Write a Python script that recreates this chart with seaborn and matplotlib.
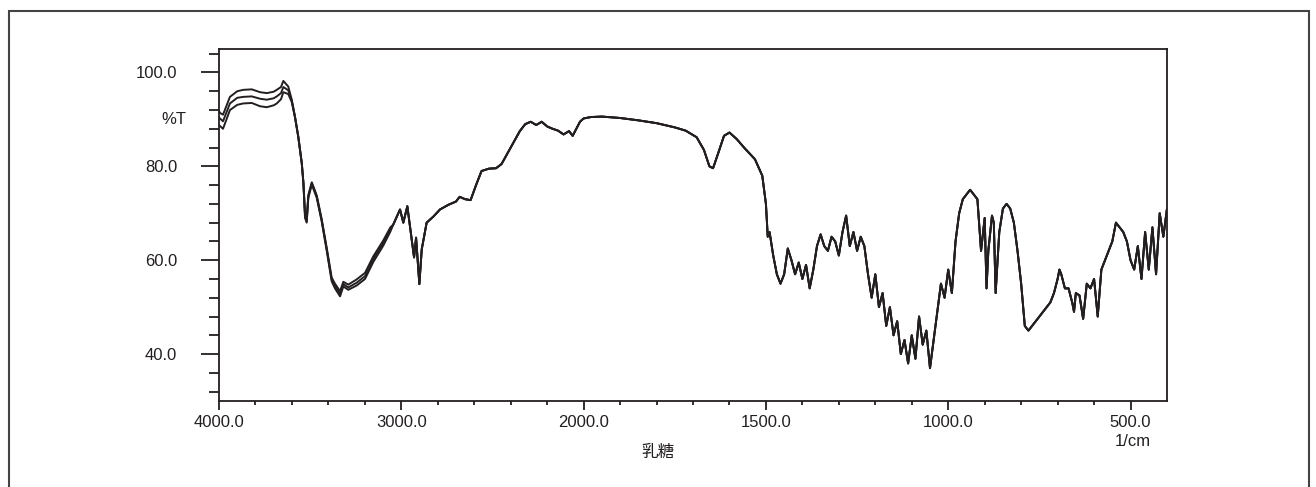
import numpy as np
import pandas as pd
import matplotlib
matplotlib.use("Agg")
import matplotlib.pyplot as plt
import matplotlib.transforms as mtransforms
from matplotlib.patches import Rectangle
from matplotlib.ticker import FixedLocator, FixedFormatter
import seaborn as sns

# --- data (wavenumber in 1/cm, %T) ---
# high-wavenumber part, where the three scans separate
wn_head = [4000, 3995, 3978, 3940, 3900, 3867, 3820, 3775, 3738, 3700, 3683, 3660, 3647,
           3620, 3601, 3583, 3565, 3546, 3537, 3528, 3519, 3510, 3491, 3464, 3437, 3409,
           3382, 3364, 3336, 3318, 3291, 3245, 3199, 3154, 3099, 3060]
t_upper_head = [91.8, 91.4, 91.0, 94.8, 96.0, 96.3, 96.4, 95.8, 95.6, 95.9, 96.3, 96.9, 98.2,
                97.0, 94.2, 90.5, 86.3, 80.7, 76.5, 69.8, 68.7, 73.9, 76.6, 73.8, 68.8, 62.6,
                56.3, 55.0, 53.4, 55.4, 54.8, 55.9, 57.3, 60.8, 64.2, 67.0]
t_mid_head = [90.4, 90.2, 89.6, 93.4, 94.6, 94.8, 94.9, 94.4, 94.2, 94.5, 94.9, 95.6, 96.9,
              96.2, 94.0, 90.5, 86.3, 80.7, 76.5, 69.3, 68.3, 73.6, 76.4, 73.6, 68.6, 62.3,
              55.9, 54.5, 52.8, 54.9, 54.2, 55.2, 56.6, 60.2, 63.7, 66.6]
t_lower_head = [88.8, 88.6, 88.0, 92.0, 93.1, 93.4, 93.5, 92.8, 92.6, 93.0, 93.4, 94.3, 95.8,
                95.4, 93.7, 90.4, 86.2, 80.6, 76.4, 69.0, 68.0, 73.3, 76.1, 73.3, 68.3, 62.0,
                55.5, 54.0, 52.3, 54.4, 53.7, 54.6, 56.0, 59.6, 63.1, 66.1]

# rest of the spectrum, where the scans lie on top of each other
wn_tail = [3044, 3007, 2989, 2967, 2943, 2930, 2919, 2901, 2888, 2861, 2824, 2788, 2742,
           2700, 2680, 2650, 2620, 2590, 2560, 2520, 2480, 2450, 2400, 2350, 2320, 2290,
           2260, 2230, 2200, 2170, 2140, 2110, 2080, 2060, 2040, 2020, 2000,
           1980, 1950, 1900, 1850, 1800, 1750, 1720, 1690, 1670, 1655, 1645, 1630, 1615,
           1600, 1580, 1560, 1530, 1510, 1500, 1495, 1490, 1480, 1470, 1460, 1450, 1440,
           1430, 1420, 1410, 1400, 1390, 1380, 1370, 1360, 1350, 1340, 1330, 1320, 1310,
           1300, 1290, 1280, 1270, 1260, 1250, 1240, 1230, 1220, 1210, 1200, 1190, 1180,
           1170, 1160, 1150, 1140, 1130, 1120, 1110, 1100, 1090, 1080, 1070, 1060, 1050,
           1040, 1030, 1020, 1010, 1000, 990, 980, 970, 960, 950, 940, 930, 920, 910,
           900, 895, 890, 880, 875, 870, 860, 850, 840, 830, 820, 810, 800, 790, 780,
           770, 760, 750, 740, 730, 720, 710, 700, 695, 690, 680, 670, 660, 655, 650,
           640, 630, 620, 610, 600, 590, 580, 570, 560, 550, 540, 530, 520, 510, 500,
           490, 480, 470, 460, 450, 440, 430, 420, 410, 400]
t_tail = [67.6, 70.8, 68.0, 71.5, 64.4, 60.6, 64.8, 54.9, 62.3, 68.0, 69.3, 70.8, 71.8,
          72.5, 73.5, 73.0, 72.8, 76.0, 79.0, 79.5, 79.6, 80.5, 84.0, 87.5, 89.0, 89.5,
          88.8, 89.5, 88.5, 88.0, 87.6, 86.8, 87.5, 86.5, 88.0, 89.5, 90.2,
          90.5, 90.6, 90.3, 89.8, 89.2, 88.3, 87.6, 86.2, 83.5, 80.0, 79.6, 83.0, 86.5,
          87.2, 85.8, 84.0, 81.5, 78.0, 72.0, 65.0, 66.0, 61.0, 57.0, 55.0, 57.0, 62.5,
          60.0, 57.0, 59.5, 56.0, 59.0, 54.0, 58.0, 63.0, 65.5, 63.0, 62.0, 65.0, 64.0,
          61.0, 66.0, 69.5, 63.0, 66.0, 62.0, 65.0, 63.0, 57.0, 52.0, 57.0, 50.0, 53.0,
          46.0, 50.0, 44.0, 47.0, 40.0, 43.0, 38.0, 44.0, 39.0, 48.0, 42.0, 45.0, 37.0,
          43.0, 49.0, 55.0, 52.0, 58.0, 53.0, 64.0, 70.0, 73.0, 74.0, 75.0, 74.0, 73.0, 62.0,
          69.0, 54.0, 62.0, 69.5, 68.0, 53.0, 66.0, 71.0, 72.0, 71.0, 68.0, 62.0, 55.0, 46.0, 45.0,
          46.0, 47.0, 48.0, 49.0, 50.0, 51.0, 53.0, 56.0, 58.0, 57.0, 54.0, 54.0, 51.0, 49.0, 53.0,
          52.5, 47.5, 55.0, 54.0, 56.0, 48.0, 58.0, 60.0, 62.0, 64.0, 68.0, 67.0, 66.0, 64.0, 60.0,
          58.0, 63.0, 56.0, 66.0, 58.0, 67.0, 57.0, 70.0, 65.0, 71.0]

traces = {"a": t_upper_head, "b": t_mid_head, "c": t_lower_head}
frames = []
for name, head in traces.items():
    frames.append(pd.DataFrame({"wn": wn_head + wn_tail, "T": head + t_tail, "scan": name}))
df = pd.concat(frames, ignore_index=True)

x_major = [4000, 3000, 2000, 1500, 1000, 500]
x_minor = [3800, 3600, 3400, 3200, 2800, 2600, 2400, 2200, 1900, 1800, 1700, 1600,
           1400, 1300, 1200, 1100, 900, 800, 700, 600]
y_major = [40, 60, 80, 100]
y_minor = [32, 36, 44, 48, 52, 56, 64, 68, 72, 76, 84, 88, 92, 96, 104]


# the instrument plots 2000-400 at twice the scale of 4000-2000
def fwd(x):
    x = np.asarray(x, dtype=float)
    return np.where(x >= 2000, x, 2 * x - 2000)


def inv(u):
    u = np.asarray(u, dtype=float)
    return np.where(u >= 2000, u, (u + 2000) / 2)


sns.set_theme(style="white")
plt.rcParams["font.family"] = ["Liberation Sans", "Noto Sans CJK JP", "DejaVu Sans"]
ink = "#231f20"

fig = plt.figure(figsize=(13.16, 4.87), dpi=100)
ax = fig.add_axes([219 / 1316, 86 / 487, 948 / 1316, 352 / 487])

sns.lineplot(data=df, x="wn", y="T", units="scan", estimator=None, sort=False,
             color=ink, linewidth=1.4, ax=ax, legend=False)

ax.set_xscale("function", functions=(fwd, inv))
ax.set_xlim(4000, 400)
ax.set_ylim(30, 105)
ax.xaxis.set_major_locator(FixedLocator(x_major))
ax.xaxis.set_major_formatter(FixedFormatter([f"{v:.1f}" for v in x_major]))
ax.xaxis.set_minor_locator(FixedLocator(x_minor))
ax.xaxis.set_minor_formatter(FixedFormatter([""] * len(x_minor)))
ax.yaxis.set_major_locator(FixedLocator(y_major))
ax.yaxis.set_major_formatter(FixedFormatter([f"{v:.1f}" for v in y_major]))
ax.yaxis.set_minor_locator(FixedLocator(y_minor))
ax.set_xlabel("")
ax.set_ylabel("")

for s in ax.spines.values():
    s.set_color(ink)
    s.set_linewidth(1.3)
ax.tick_params(axis="both", which="both", direction="out", color=ink, width=1.3,
               labelsize=12, labelcolor=ink, bottom=True, left=True)
ax.tick_params(axis="x", which="major", length=6.5, pad=3.5)
ax.tick_params(axis="x", which="minor", length=3)
ax.tick_params(axis="y", which="major", length=13, pad=17)
ax.tick_params(axis="y", which="minor", length=7.2)

trans = mtransforms.blended_transform_factory(ax.transAxes, ax.transData)
ax.text(-0.034, 90, "%T", transform=trans, ha="right", va="center", fontsize=12, color=ink)
fig.text(1151 / 1316, 1 - 441 / 487, "1/cm", ha="right", va="center", fontsize=12, color=ink)
fig.text(0.5, 1 - 453 / 487, "乳糖", ha="center", va="center", fontsize=12, color=ink,
         family=["Noto Sans CJK JP", "DejaVu Sans"])

fig.patches.append(Rectangle((9 / 1316, -0.1), 1300 / 1316, 1.1 - 11 / 487,
                             transform=fig.transFigure, fill=False, lw=1.5,
                             edgecolor="#444444"))

fig.savefig("out.png", dpi=100)
